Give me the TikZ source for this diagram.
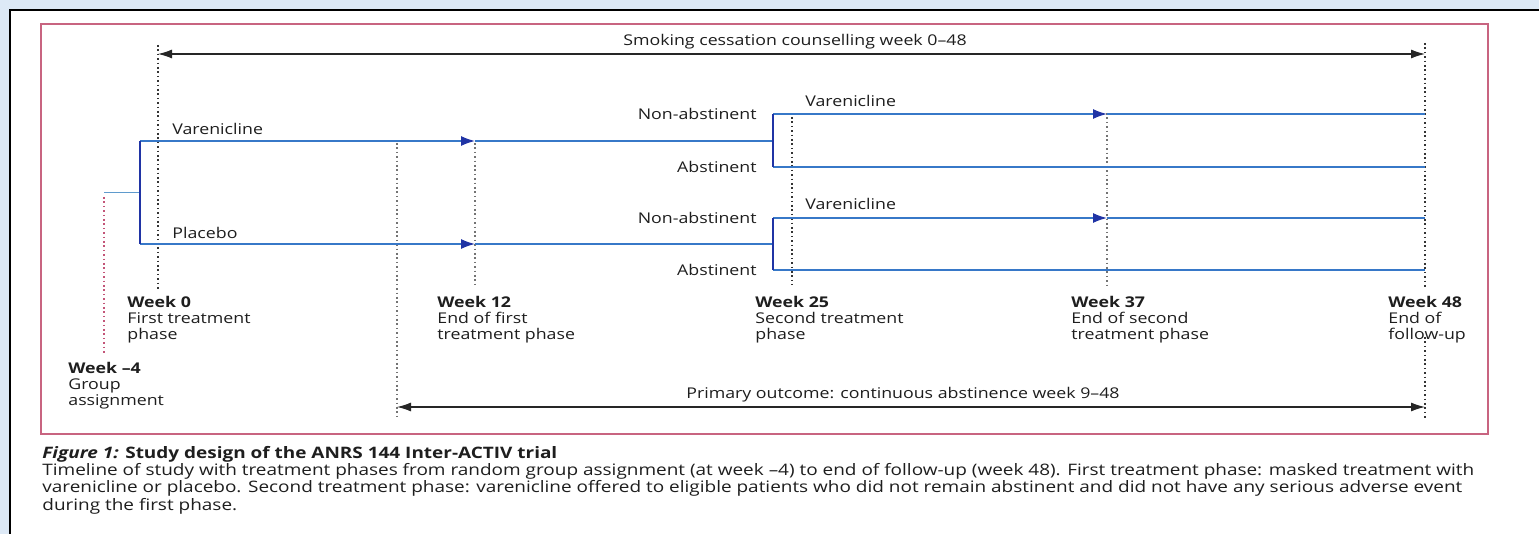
\documentclass[tikz,border=0pt]{standalone}
\usepackage{fontspec}
\setmainfont{Open Sans}[FakeStretch=1.2]
\usetikzlibrary{arrows.meta}
\definecolor{bgblue}{RGB}{221,233,246}
\definecolor{framered}{RGB}{200,100,128}
\definecolor{lineblue}{RGB}{55,120,200}
\definecolor{darkblue}{RGB}{32,52,165}
\definecolor{conn}{RGB}{95,155,205}
\definecolor{txt}{RGB}{30,30,30}
\definecolor{dotred}{RGB}{195,85,120}
\tikzset{
  dotline/.style={line width=1pt, dash pattern=on 0.8pt off 1.4pt, black!80},
  dotgray/.style={line width=1pt, dash pattern=on 0.8pt off 1.4pt, black!55},
  dotpink/.style={line width=1pt, dash pattern=on 0.8pt off 1.4pt, dotred},
  blueline/.style={lineblue, line width=0.7pt},
  bluearrow/.style={blueline, -{Latex[length=7pt,width=5pt,color=darkblue]}},
  bracket/.style={darkblue, line width=1pt},
  spanarrow/.style={black!85, line width=0.55pt, {Latex[length=7pt,width=4.5pt]}-{Latex[length=7pt,width=4.5pt]}},
  lbl/.style={font=\fontsize{7.4}{8}\selectfont, text=txt, inner sep=0pt},
  weeklbl/.style={lbl, align=left, anchor=north west},
  captext/.style={font=\fontsize{7.9}{8.6}\selectfont, text=txt, inner sep=0pt, align=left, anchor=north west}
}
\begin{document}
\begin{tikzpicture}[x=0.5pt,y=-0.5pt]
\useasboundingbox (0,0) rectangle (1539,534);
\fill[bgblue] (0,0) rectangle (1539,534);
\fill[white] (10,10) rectangle (1539,534);
\draw[black, line width=1.2pt] (10,534) -- (10,10) -- (1539,10);
\draw[framered, line width=0.6pt] (41,24) rectangle (1488,434);

% time marks
\coordinate (w0t) at (158,45);   \coordinate (w0b) at (158,290);
\coordinate (wm4t) at (104,197); \coordinate (wm4b) at (104,355);
\coordinate (w9t) at (397,143);  \coordinate (w9b) at (397,420);
\coordinate (w12t) at (475,143); \coordinate (w12b) at (475,287);
\coordinate (w25t) at (792,117); \coordinate (w25b) at (792,285);
\coordinate (w37t) at (1107,113); \coordinate (w37b) at (1107,288);
\coordinate (w48t) at (1425,43); \coordinate (w48m) at (1425,288);
\coordinate (w48n) at (1425,337); \coordinate (w48b) at (1425,420);

\draw[dotline] (w0t) -- (w0b);
\draw[dotpink] (wm4t) -- (wm4b);
\draw[dotgray] (w9t) -- (w9b);
\draw[dotgray] (w12t) -- (w12b);
\draw[dotline] (w25t) -- (w25b);
\draw[dotgray] (w37t) -- (w37b);
\draw[dotline] (w48t) -- (w48m);
\draw[dotline] (w48n) -- (w48b);

% span arrows
\coordinate (ca) at (158,54); \coordinate (cb) at (1425,54);
\draw[spanarrow] (ca) -- (cb);
\node[lbl] (counsel) at (795,42) {Smoking cessation counselling week 0–48};
\coordinate (pa) at (397,407); \coordinate (pb) at (1425,407);
\draw[spanarrow] (pa) -- (pb);
\node[lbl] (primary) at (903,395) {Primary outcome: continuous abstinence week 9–48};

% randomisation
\coordinate (ga) at (104,193); \coordinate (sp) at (140,193);
\coordinate (vs) at (140,141); \coordinate (ps) at (140,244);
\coordinate (v12) at (475,141); \coordinate (p12) at (475,244);
\coordinate (v25) at (773,141); \coordinate (p25) at (773,244);
\draw[conn, line width=0.5pt] (ga) -- (sp);
\draw[bluearrow] (vs) -- (v12);
\draw[blueline] (v12) -- (v25);
\draw[bluearrow] (ps) -- (p12);
\draw[blueline] (p12) -- (p25);
\draw[bracket] (vs) -- (ps);
\node[lbl, anchor=west] (lvar) at (172,129) {Varenicline};
\node[lbl, anchor=west] (lpla) at (172,233) {Placebo};

% second phase, upper
\coordinate (un) at (773,114); \coordinate (ua) at (773,167);
\coordinate (un37) at (1107,114); \coordinate (un48) at (1425,114);
\coordinate (ua48) at (1425,167);
\draw[bluearrow] (un) -- (un37);
\draw[blueline] (un37) -- (un48);
\draw[blueline] (ua) -- (ua48);
\draw[bracket] (un) -- (ua);
\node[lbl, anchor=east] (lun) at (757,114) {Non-abstinent};
\node[lbl, anchor=east] (lua) at (757,167) {Abstinent};
\node[lbl, anchor=west] (luv) at (805,101) {Varenicline};

% second phase, lower
\coordinate (ln) at (773,218); \coordinate (la) at (773,270);
\coordinate (ln37) at (1107,218); \coordinate (ln48) at (1425,218);
\coordinate (la48) at (1425,270);
\draw[bluearrow] (ln) -- (ln37);
\draw[blueline] (ln37) -- (ln48);
\draw[blueline] (la) -- (la48);
\draw[bracket] (ln) -- (la);
\node[lbl, anchor=east] (lln) at (757,218) {Non-abstinent};
\node[lbl, anchor=east] (lla) at (757,270) {Abstinent};
\node[lbl, anchor=west] (llv) at (805,204) {Varenicline};

% week labels
\node[weeklbl] (t0) at (127,296) {\textbf{Week 0}\\First treatment\\phase};
\node[weeklbl] (tm4) at (68,362) {\textbf{Week –4}\\Group\\assignment};
\node[weeklbl] (t12) at (437,296) {\textbf{Week 12}\\End of first\\treatment phase};
\node[weeklbl] (t25) at (755,296) {\textbf{Week 25}\\Second treatment\\phase};
\node[weeklbl] (t37) at (1071,296) {\textbf{Week 37}\\End of second\\treatment phase};
\node[weeklbl] (t48) at (1388,296) {\textbf{Week 48}\\End of\\follow-up};

% caption
\node[captext] (caption) at (42,446) {\textbf{\textit{Figure 1:} Study design of the ANRS 144 Inter-ACTIV trial}\\
Timeline of study with treatment phases from random group assignment (at week –4) to end of follow-up (week 48). First treatment phase: masked treatment with\\
varenicline or placebo. Second treatment phase: varenicline offered to eligible patients who did not remain abstinent and did not have any serious adverse event\\
during the first phase.};
\end{tikzpicture}
\end{document}
